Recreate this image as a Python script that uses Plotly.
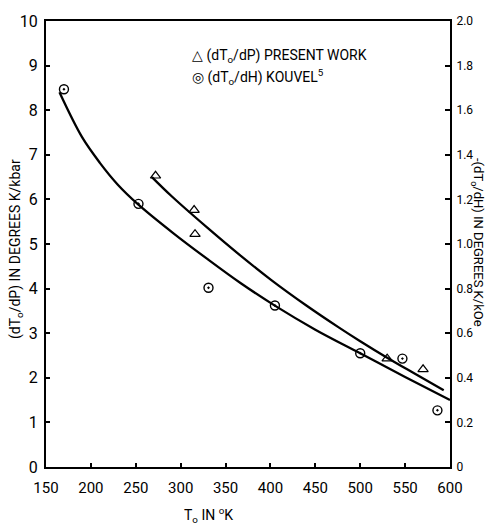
import plotly.graph_objects as go

# ---- data ----
# Present work: (dT0/dP) in K/kbar (left axis)
present_T = [272, 315, 316, 530, 570]
present_dTdP = [6.53, 5.76, 5.22, 2.43, 2.19]

# Kouvel: -(dT0/dH) in K/kOe (right axis)
kouvel_T = [170, 253, 331, 405, 500, 547, 586]
kouvel_dTdH = [1.694, 1.180, 0.804, 0.724, 0.510, 0.486, 0.254]

# smooth fitted curves
present_curve_T = [268, 290, 330, 366, 401, 440, 476, 500, 530, 560, 593]
present_curve_v = [6.50, 6.07, 5.36, 4.75, 4.19, 3.62, 3.13, 2.82, 2.45, 2.10, 1.72]

kouvel_curve_T = [165, 190, 210, 230, 252, 292, 330, 367, 404, 450, 500, 550, 600]
kouvel_curve_v = [1.680, 1.480, 1.364, 1.266, 1.180, 1.048, 0.932, 0.824, 0.726, 0.616, 0.510, 0.404, 0.300]

x_ticks = [150, 200, 250, 300, 350, 400, 450, 500, 550, 600]
y_ticks = [0, 1, 2, 3, 4, 5, 6, 7, 8, 9, 10]
y2_ticks = [0, 0.2, 0.4, 0.6, 0.8, 1.0, 1.2, 1.4, 1.6, 1.8, 2.0]
y2_labels = ["0", "0.2", "0.4", "0.6", "0.8", "1.0", "1.2", "1.4", "1.6", "1.8", "2.0"]

FONT = "Roboto, Arial, sans-serif"

fig = go.Figure()

fig.add_trace(go.Scatter(
    x=present_curve_T, y=present_curve_v, mode="lines",
    line=dict(color="black", width=2.3, shape="spline", smoothing=1.0),
    showlegend=False, yaxis="y"))
fig.add_trace(go.Scatter(
    x=kouvel_curve_T, y=kouvel_curve_v, mode="lines",
    line=dict(color="black", width=2.3, shape="spline", smoothing=1.0),
    showlegend=False, yaxis="y2"))
fig.add_trace(go.Scatter(
    x=present_T, y=present_dTdP, mode="markers",
    marker=dict(symbol="triangle-up-open", size=9, color="black", line=dict(width=1.2, color="black")),
    showlegend=False, yaxis="y"))
fig.add_trace(go.Scatter(
    x=kouvel_T, y=kouvel_dTdH, mode="markers",
    marker=dict(symbol="circle-open-dot", size=9, color="black", line=dict(width=1.4, color="black")),
    showlegend=False, yaxis="y2"))

L, R, T, B = 46, 36, 17, 60
W, H = 486, 527
pw = W - L - R
ph = H - T - B

def px(x):
    return (x - L) / pw

def py(y):
    return (H - B - y) / ph

fig.update_layout(
    width=W, height=H,
    margin=dict(l=L, r=R, t=T, b=B),
    paper_bgcolor="white", plot_bgcolor="white",
    font=dict(family=FONT, color="black"),
    xaxis=dict(range=[150, 600], tickvals=x_ticks, ticks="inside", ticklen=4,
               tickwidth=1.5, tickcolor="black", showline=True, linecolor="black",
               linewidth=2, mirror=True, showgrid=False, zeroline=False,
               tickfont=dict(size=15, family=FONT), ticklabelstandoff=6),
    yaxis=dict(range=[0, 10], tickvals=y_ticks, ticks="inside", ticklen=4,
               tickwidth=1.5, tickcolor="black", showline=True, linecolor="black",
               linewidth=2, showgrid=False, zeroline=False,
               tickfont=dict(size=16, family=FONT), ticklabelstandoff=3),
    yaxis2=dict(range=[0, 2], tickvals=y2_ticks, ticktext=y2_labels, overlaying="y",
                side="right", ticks="inside", ticklen=5, tickwidth=1.5, tickcolor="black",
                showline=True, linecolor="black", linewidth=2, showgrid=False,
                zeroline=False, tickfont=dict(size=12, family=FONT), ticklabelstandoff=2),
    annotations=[
        dict(text="(dT<sub>o</sub>/dP) IN DEGREES K/kbar", textangle=-90,
             x=px(16), y=py(247), xref="paper", yref="paper", showarrow=False,
             xanchor="center", yanchor="middle",
             font=dict(size=14, family=FONT)),
        dict(text="-(dT<sub>o</sub>/dH) IN DEGREES K/kOe", textangle=90,
             x=px(478), y=py(240), xref="paper", yref="paper", showarrow=False,
             xanchor="center", yanchor="middle",
             font=dict(size=13, family=FONT)),
        dict(text="T<sub>o</sub> IN <sup>o</sup>K",
             x=px(208), y=py(515), xref="paper", yref="paper", showarrow=False,
             xanchor="center", yanchor="middle",
             font=dict(size=14, family=FONT)),
        dict(text="\u25b3 (dT<sub>o</sub>/dP) PRESENT WORK", xanchor="left", yanchor="middle",
             x=px(190), y=py(52), xref="paper", yref="paper", showarrow=False,
             font=dict(size=14, family=FONT)),
        dict(text="\u25ce (dT<sub>o</sub>/dH) KOUVEL<sup>5</sup>", xanchor="left", yanchor="middle",
             x=px(190), y=py(73), xref="paper", yref="paper", showarrow=False,
             font=dict(size=14, family=FONT)),
    ],
)

fig.write_html("out.html")
